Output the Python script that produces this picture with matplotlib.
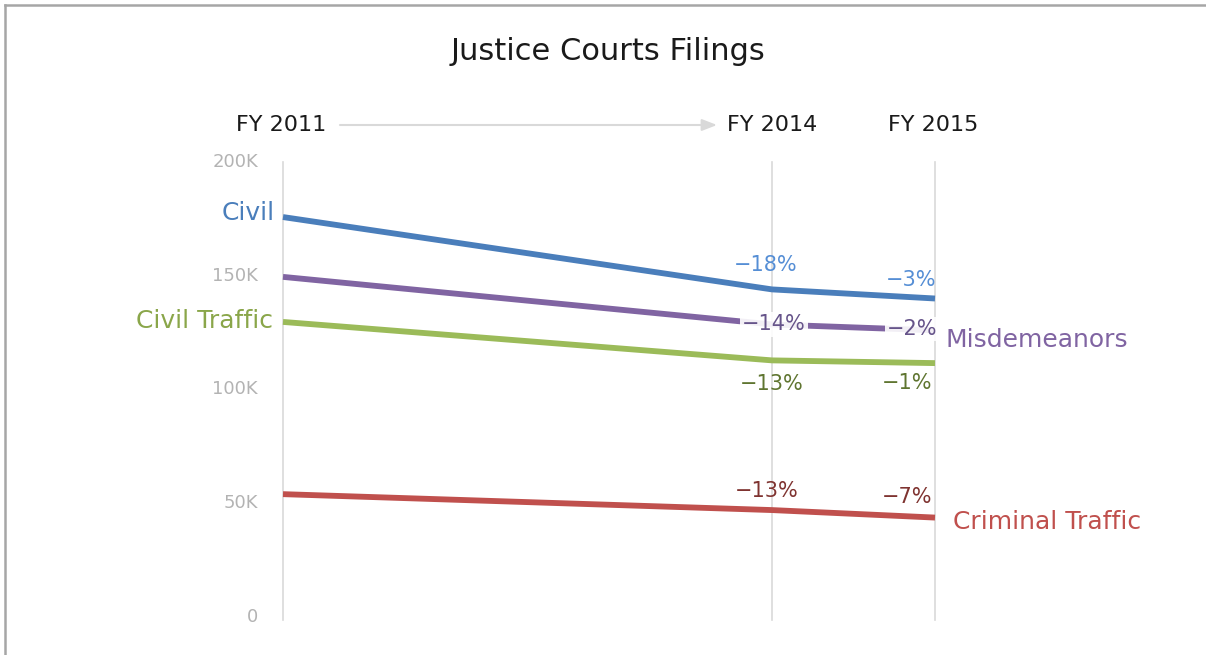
import matplotlib
matplotlib.use("Agg")
import matplotlib.pyplot as plt
from matplotlib.lines import Line2D

# data (filings per fiscal year)
years = [2011, 2014, 2015]
year_labels = ["FY 2011", "FY 2014", "FY 2015"]
civil = [175800, 144000, 140000]
misdemeanors = [149500, 128600, 126000]
civil_traffic = [129700, 112800, 111600]
criminal_traffic = [54000, 47000, 43700]
civil_pct = ["\u221218%", "\u22123%"]
misd_pct = ["\u221214%", "\u22122%"]
ctraffic_pct = ["\u221213%", "\u22121%"]
crim_pct = ["\u221213%", "\u22127%"]
y_ticks = [0, 50000, 100000, 150000, 200000]
y_tick_labels = ["0", "50K", "100K", "150K", "200K"]

plt.rcParams["font.family"] = "DejaVu Sans"

W, H = 1206, 655
fig = plt.figure(figsize=(W / 100, H / 100), dpi=100)
fig.patch.set_facecolor("white")

# grey frame on left and top of the picture
fig.add_artist(Line2D([5 / W, 5 / W], [0, 1 - 5 / H], transform=fig.transFigure,
                      color="#a6a6a6", lw=1.8))
fig.add_artist(Line2D([5 / W, 1], [1 - 5 / H, 1 - 5 / H], transform=fig.transFigure,
                      color="#a6a6a6", lw=1.8))

ax = fig.add_axes([283 / W, (H - 617) / H, (935 - 283) / W, (617 - 162) / H])
ax.set_xlim(2011, 2015)
ax.set_ylim(0, 200000)
ax.axis("off")

# vertical category lines
for yr in years:
    ax.plot([yr, yr], [-1500, 200000], color="#d9d9d9", lw=1.2, clip_on=False, zorder=1)

# y tick labels
for v, lab in zip(y_ticks, y_tick_labels):
    ax.annotate(lab, xy=(2011, v), xytext=(-25, 0), textcoords="offset pixels",
                ha="right", va="center", fontsize=13, color="#b3b3b3",
                annotation_clip=False)

blue, purple, green, red = "#4a7ebb", "#8064a2", "#9bbb59", "#c0504d"

series = [
    (civil, blue, civil_pct, "#558ed5", [(-6, 24), (-24, 18)]),
    (misdemeanors, purple, misd_pct, "#66548a", [(2, 0), (-23, 1)]),
    (civil_traffic, green, ctraffic_pct, "#5f7530", [(0, -24), (-28, -20)]),
    (criminal_traffic, red, crim_pct, "#7f3330", [(-5, 19), (-28, 21)]),
]
for vals, col, pcts, tcol, offs in series:
    ax.plot(years, vals, color=col, lw=4.2, solid_capstyle="butt",
            solid_joinstyle="round", zorder=3, clip_on=False)
    for i, (p, off) in enumerate(zip(pcts, offs)):
        bbox = None
        if col == purple:
            bbox = dict(boxstyle="square,pad=0.1", fc="white", ec="none", alpha=0.9)
        ax.annotate(p, xy=(years[i + 1], vals[i + 1]), xytext=off,
                    textcoords="offset pixels", ha="center", va="center",
                    fontsize=15, color=tcol, bbox=bbox, zorder=4,
                    annotation_clip=False)

# series names
ax.annotate("Civil", xy=(years[0], civil[0]), xytext=(-8, 4), textcoords="offset pixels",
            ha="right", va="center", fontsize=18, color=blue, annotation_clip=False)
ax.annotate("Civil Traffic", xy=(years[0], civil_traffic[0]), xytext=(-10, 1),
            textcoords="offset pixels", ha="right", va="center", fontsize=18,
            color="#8aa64a", annotation_clip=False)
ax.annotate("Misdemeanors", xy=(years[-1], misdemeanors[-1]), xytext=(10, -10),
            textcoords="offset pixels", ha="left", va="center", fontsize=18,
            color=purple, annotation_clip=False)
ax.annotate("Criminal Traffic", xy=(years[-1], criminal_traffic[-1]), xytext=(18, -4),
            textcoords="offset pixels", ha="left", va="center", fontsize=18,
            color=red, annotation_clip=False)

# fiscal year headers and arrow
hdr_y = (H - 125) / H
for yr, lab, dx in zip(years, year_labels, [-2, 0, -2]):
    xf = ax.transData.transform((yr, 0))[0] / W
    fig.text(xf + dx / W, hdr_y, lab, ha="center", va="center", fontsize=16,
             color="#1a1a1a")
ax.annotate("", xy=(717 / W, hdr_y), xytext=(340 / W, hdr_y),
            xycoords="figure fraction", textcoords="figure fraction",
            arrowprops=dict(arrowstyle="-|>,head_length=0.9,head_width=0.35",
                            color="#d9d9d9", lw=1.5, shrinkA=0, shrinkB=0))

fig.text(608 / W, (H - 51) / H, "Justice Courts Filings", ha="center", va="center",
         fontsize=22, color="#1a1a1a")

fig.savefig("out.png", dpi=100, facecolor="white")
